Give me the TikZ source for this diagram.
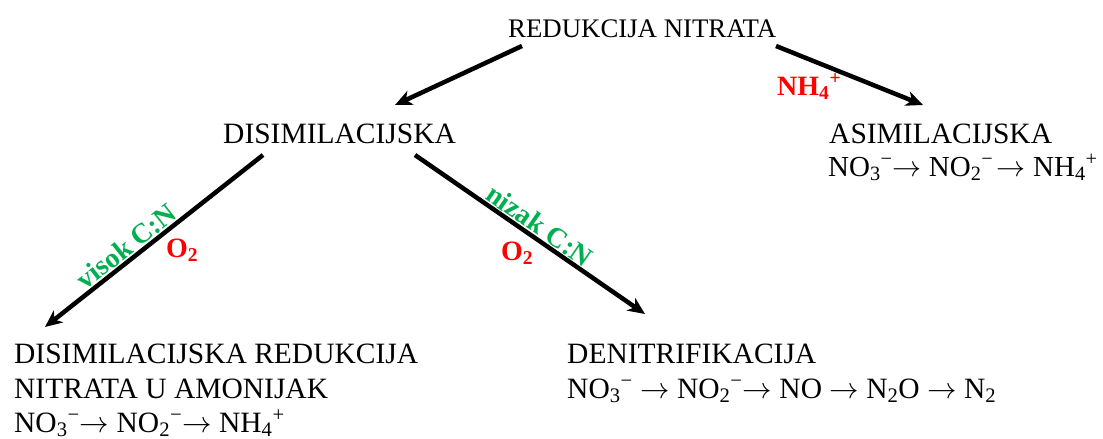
\RequirePackage{fix-cm}
\documentclass[tikz,border=0pt]{standalone}
\usepackage{fontspec}
\setmainfont{Liberation Serif}
\usetikzlibrary{arrows.meta}
\definecolor{lblred}{RGB}{255,0,0}
\definecolor{lblgreen}{RGB}{0,176,80}
\tikzset{
  txt/.style={anchor=base west, inner sep=0pt, font=\fontsize{29.5}{34}\selectfont},
  redlbl/.style={anchor=base west, inner sep=0pt, text=lblred, font=\fontsize{28}{30}\selectfont\bfseries},
  greenlbl/.style={text=lblgreen, inner sep=1pt, font=\fontsize{28}{30}\selectfont\bfseries},
  arr/.style={line width=4.5pt, -{Stealth[length=17pt,width=15pt,inset=5pt]}}
}
\newcommand{\sbs}[1]{\textsubscript{#1}}
\newcommand{\sps}[1]{\textsuperscript{#1}}
\newcommand{\rar}{\ensuremath{\rightarrow}}
\begin{document}
\begin{tikzpicture}[x=1pt,y=-1pt]
\useasboundingbox (0,0) rectangle (1103,439);
% texts
\node[txt, font=\fontsize{26.8}{34}\selectfont] (top) at (508,37) {REDUKCIJA NITRATA};
\node[txt] (dis) at (223,143) {DISIMILACIJSKA};
\node[txt] (asim) at (829,143) {ASIMILACIJSKA};
\node[txt, font=\fontsize{29}{34}\selectfont] (asimeq) at (828,176) {NO\sbs{3}\sps{−}\rar{} NO\sbs{2}\sps{−}\hspace{0.12em}\rar{} NH\sbs{4}\sps{+}};
\node[txt] (dnra1) at (14,363) {DISIMILACIJSKA REDUKCIJA};
\node[txt] (dnra2) at (14,398) {NITRATA U AMONIJAK};
\node[txt] (dnraeq) at (14,432) {NO\sbs{3}\sps{−}\rar{} NO\sbs{2}\sps{−}\rar{} NH\sbs{4}\sps{+}};
\node[txt] (den) at (567,363) {DENITRIFIKACIJA};
\node[txt] (deneq) at (567,398) {NO\sbs{3}\sps{−} \rar{} NO\sbs{2}\sps{−}\rar{} NO \rar{} N\sbs{2}O \rar{} N\sbs{2}};
% arrow end points
\coordinate (a1s) at (522,46);
\coordinate (a1e) at (395,105);
\coordinate (a2s) at (776,46);
\coordinate (a2e) at (923,105);
\coordinate (a3s) at (263,155);
\coordinate (a3e) at (45,327);
\coordinate (a4s) at (415,155);
\coordinate (a4e) at (645,314);
% arrows
\draw[arr] (a1s) -- (a1e);
\draw[arr] (a2s) -- (a2e);
\draw[arr] (a3s) -- node[greenlbl, sloped, above, pos=0.59] (visok) {visok C:N} (a3e);
\draw[arr] (a4s) -- node[greenlbl, sloped, above, pos=0.51] (nizak) {nizak C:N} (a4e);
% red labels
\node[redlbl] (nh) at (777,95) {NH\sbs{4}\sps{+}};
\node[redlbl] (o2a) at (166,257) {O\sbs{2}};
\node[redlbl] (o2b) at (501,260) {O\sbs{2}};
\end{tikzpicture}
\end{document}
